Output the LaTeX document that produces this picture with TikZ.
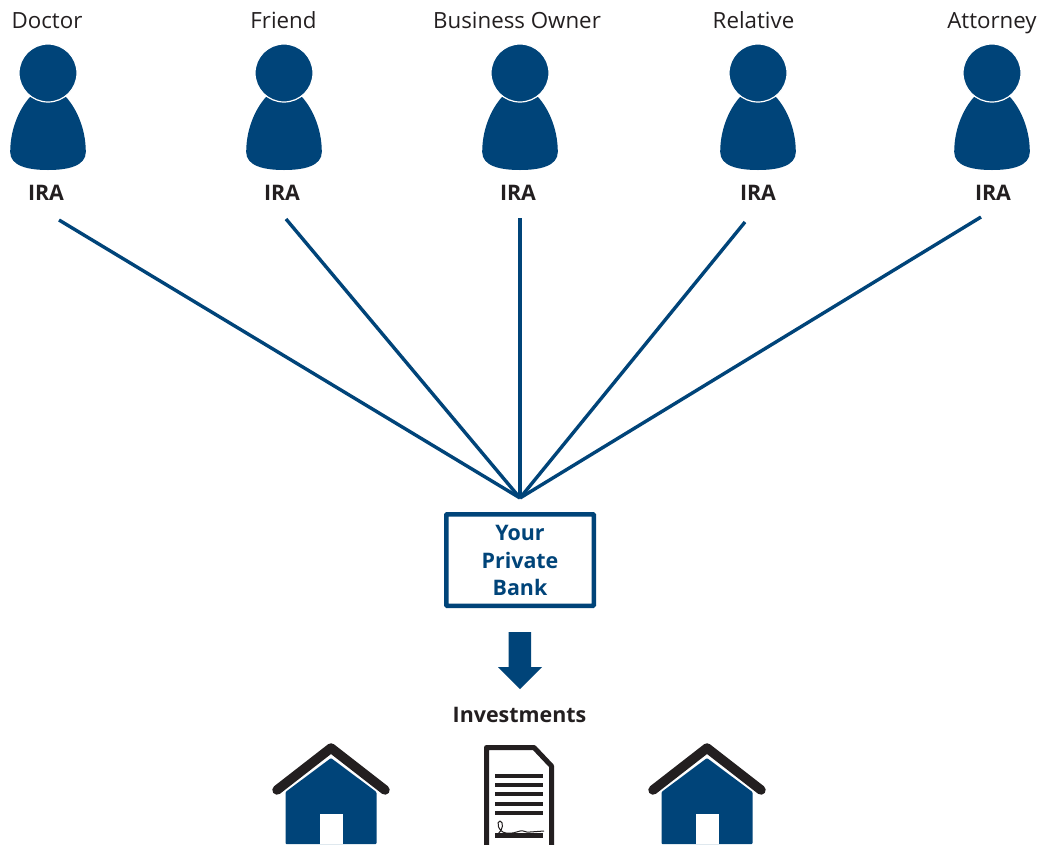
\documentclass[tikz,border=0pt]{standalone}
\usepackage{fontspec}
\setmainfont{Open Sans}
\definecolor{navy}{HTML}{004479}
\definecolor{ink}{HTML}{231F20}
\tikzset{
  x=1pt,y=-1pt,
  lab/.style={text=ink,inner sep=0pt,anchor=base,font=\fontsize{22.3}{26}\selectfont},
  ira/.style={text=ink,inner sep=0pt,anchor=base,font=\fontsize{21.4}{25}\selectfont\bfseries},
  spoke/.style={draw=navy,line width=3.4pt},
  bankbox/.style={draw=navy,line width=4.5pt,fill=white,rounded corners=0.8pt,minimum width=147.5pt,minimum height=91.5pt,inner sep=0pt},
  person/.pic={
    \fill[navy] (-18,97) .. controls (-28,108) and (-37.8,128) .. (-37.8,152)
      .. controls (-37.8,166) and (-20,170) .. (0,170)
      .. controls (20,170) and (37.8,166) .. (37.8,152)
      .. controls (37.8,128) and (28,108) .. (18,97) -- cycle;
    \fill[navy,draw=white,line width=1.2pt] (0,73) circle (29);
  },
  house/.pic={
    \fill[navy,rounded corners=1pt] (0,758) -- (-45.5,792) -- (-45.5,844) -- (45.5,844) -- (45.5,792) -- cycle;
    \fill[white] (-11.5,814) rectangle (11.5,844);
    \draw[ink,line width=9.5pt,line cap=round,line join=round] (-54,790) -- (0,748) -- (54,790);
  }
}
\begin{document}
\begin{tikzpicture}
\useasboundingbox (0,0) rectangle (1043,844);
\fill[white] (0,0) rectangle (1043,844);
\path (47,28) node[lab] (t1) {Doctor};
\path (283.5,28) node[lab] (t2) {Friend};
\path (517,28) node[lab] (t3) {Business Owner};
\path (753.5,28) node[lab] (t4) {Relative};
\path (992,28) node[lab] (t5) {Attorney};
\foreach \cx in {48,284,520,758,992} \pic at (\cx,0) {person};
\path (46,200) node[ira] (i1) {IRA};
\path (282,200) node[ira] (i2) {IRA};
\path (518,200) node[ira] (i3) {IRA};
\path (758,200) node[ira] (i4) {IRA};
\path (993,200) node[ira] (i5) {IRA};
\coordinate (s1) at (59,220);
\coordinate (s2) at (286,219);
\coordinate (s3) at (520,218);
\coordinate (s4) at (745,222);
\coordinate (s5) at (981,217);
\coordinate (hub) at (520,498);
\draw[spoke] (s1) -- (hub);
\draw[spoke] (s2) -- (hub);
\draw[spoke] (s3) -- (hub);
\draw[spoke] (s4) -- (hub);
\draw[spoke] (s5) -- (hub);
\node[bankbox] (bank) at (520,560) {};
\path (520,540) node[ira,text=navy] (b1) {Your};
\path (520,568) node[ira,text=navy] (b2) {Private};
\path (520,595) node[ira,text=navy] (b3) {Bank};
\fill[navy] (508.5,632) -- (531,632) -- (531,667) -- (542,667) -- (520,689) -- (498,667) -- (508.5,667) -- cycle;
\path (519.5,722) node[ira] (inv) {Investments};
\pic at (331,0) {house};
\pic at (707,0) {house};
% document
\draw[ink,line width=5pt,line join=round] (486.5,847) -- (486.5,747.5) -- (534,747.5) -- (551.5,766) -- (551.5,847);
\foreach \yy in {776,785,794,804,813} \draw[ink,line width=4.4pt] (495,\yy) -- (543,\yy);
\fill[ink] (495,833) rectangle (543,837.5);
\draw[ink,line width=1pt] (498,834) .. controls (503,830) and (504,822) .. (500,821) .. controls (496,821) and (498,832) .. (506,833) .. controls (512,834) and (516,832) .. (520,831) .. controls (524,830) and (526,833) .. (530,832) -- (544,831);
\end{tikzpicture}
\end{document}
